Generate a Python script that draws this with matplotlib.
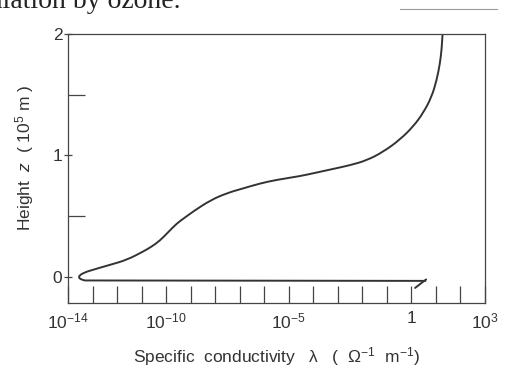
import matplotlib
matplotlib.use("Agg")
import matplotlib.pyplot as plt
import numpy as np
from matplotlib.lines import Line2D
from matplotlib.path import Path
from matplotlib.patches import PathPatch

# log10 of conductivity and height (10^5 m) (top to bottom)
log_lam = [1.27, 1.23, 1.165, 1.03, 0.82, 0.48, 0.08, -0.47, -1.15, -1.82,
           -2.50, -3.18, -3.86, -4.54, -5.49, -6.17, -6.85, -7.53, -8.21,
           -8.89, -9.23, -9.57, -9.91, -10.25, -10.59, -10.93, -11.61, -12.29,
           -12.89, -13.38, -13.60, -13.43, -13.16, 0.57]
height = [2.0, 1.87, 1.76, 1.62, 1.48, 1.35, 1.24, 1.13, 1.03, 0.96,
          0.92, 0.89, 0.86, 0.83, 0.80, 0.77, 0.73, 0.69, 0.63,
          0.54, 0.49, 0.44, 0.37, 0.30, 0.25, 0.21, 0.14, 0.10,
          0.065, 0.035, 0.0, -0.025, -0.032, -0.032]
# short hook at the right end of the ground-level branch
hook_lam = [0.60, 0.15]
hook_z = [-0.02, -0.09]

x_decades = list(range(-14, 4))
x_labels = {-14: r'$10^{-14}$', -10: r'$10^{-10}$', -5: r'$10^{-5}$', 0: '1', 3: r'$10^{3}$'}

plt.rcParams['font.family'] = ['Liberation Sans', 'DejaVu Sans']
plt.rcParams['mathtext.fontset'] = 'custom'
plt.rcParams['mathtext.rm'] = 'Liberation Sans'
plt.rcParams['mathtext.it'] = 'Liberation Sans:italic'

fig = plt.figure(figsize=(5.07, 3.7), dpi=100)
ax = fig.add_axes([68/507, 67/370, 417/507, 269/370])

ax.set_xscale('log')
ax.set_xlim(1e-14, 1e3)
ax.set_ylim(-0.214, 2.0)

# smooth the read points with quadratic segments, drawn in display space
pts = ax.transData.transform(np.column_stack([10.0**np.array(log_lam), height]))
verts = [pts[0], (pts[0] + pts[1]) / 2]
codes = [Path.MOVETO, Path.LINETO]
for i in range(1, len(pts) - 2):
    verts += [pts[i], (pts[i] + pts[i + 1]) / 2]
    codes += [Path.CURVE3, Path.CURVE3]
verts.append(pts[-1])
codes.append(Path.LINETO)
curve = PathPatch(Path(verts, codes), transform=None, fill=False,
                  edgecolor='#333333', lw=1.4, joinstyle='round', capstyle='round')
ax.add_artist(curve)
ax.plot([10**v for v in hook_lam], hook_z, color='#333333', lw=1.4,
        solid_capstyle='round')

ax.set_xticks([10.0**d for d in x_decades])
ax.set_xticklabels([x_labels.get(d, '') for d in x_decades])
ax.xaxis.set_minor_locator(matplotlib.ticker.NullLocator())
ax.tick_params(axis='x', direction='in', length=12, width=0.9, colors='#444444',
               labelcolor='#333333', labelsize=12.5, pad=6)

ax.set_yticks([0, 1, 2])
ax.set_yticklabels(['0', '1', '2'])
ax.set_yticks([0.5, 1.5], minor=True)
ax.tick_params(axis='y', which='major', direction='inout', length=6, width=0.9,
               colors='#444444', labelcolor='#333333', labelsize=12.5, pad=1)
ax.tick_params(axis='y', which='minor', direction='in', length=12, width=0.9,
               colors='#444444')

for s in ax.spines.values():
    s.set_color('#444444')
    s.set_linewidth(0.9)

ax.set_xlabel(r'Specific  conductivity   λ   (  $\Omega^{-1}$  m$^{-1}$)',
              fontsize=12.5, color='#333333', labelpad=10)
ax.set_ylabel(r'Height  $z$  ( $10^5$ m )', fontsize=12.5, color='#333333')
ax.yaxis.set_label_coords(-0.077, 0.54)

# scanned page fragment above the figure
fig.text(181/507, 1 - 8/370, 'radiation by ozone.', ha='right', va='baseline',
         fontsize=20, family='Liberation Serif', color='#222222')
fig.add_artist(Line2D([400/507, 497/507], [1 - 9/370, 1 - 9/370],
                      color='#999999', lw=0.8))

fig.savefig('out.png', dpi=100)
